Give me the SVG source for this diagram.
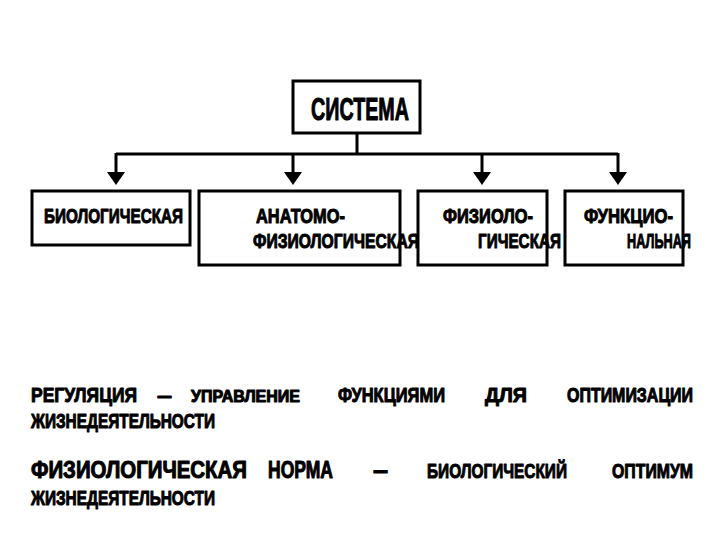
<svg xmlns="http://www.w3.org/2000/svg" width="720" height="540" viewBox="0 0 720 540">
<style>
.box{fill:#fff;stroke:#000;stroke-width:3}
.t{font-family:"Liberation Sans Narrow","Liberation Sans",Arial,sans-serif;font-weight:bold;fill:#000;stroke:#000;stroke-width:1;stroke-linejoin:round}
.c{fill:none;stroke:#000;stroke-width:3}
</style>
<defs>
<marker id="arr" viewBox="0 0 13 18" refX="6" refY="9" markerWidth="13" markerHeight="18" markerUnits="userSpaceOnUse" orient="auto">
<path d="M0,0 L13,9 L0,18 z" fill="#000"/>
</marker>
</defs>
<rect width="720" height="540" fill="#fff"/>
<g id="connectors">
<path class="c" d="M357,133 V154"/>
<path class="c" d="M116,154 H618"/>
<path class="c" d="M116,153 V178" marker-end="url(#arr)"/>
<path class="c" d="M293,153 V178" marker-end="url(#arr)"/>
<path class="c" d="M482,153 V178" marker-end="url(#arr)"/>
<path class="c" d="M618,153 V178" marker-end="url(#arr)"/>
</g>
<g id="sistema">
<rect class="box" x="293" y="81" width="127" height="52"/>
<text class="t" x="311" y="120" font-size="31" textLength="98" lengthAdjust="spacingAndGlyphs">СИСТЕМА</text>
</g>
<g id="biologicheskaya">
<rect class="box" x="32" y="191" width="158" height="54"/>
<text class="t" x="44" y="223" font-size="21" textLength="139" lengthAdjust="spacingAndGlyphs">БИОЛОГИЧЕСКАЯ</text>
</g>
<g id="anatomo">
<rect class="box" x="199" y="191" width="201" height="74"/>
<text class="t" x="256" y="223" font-size="21" textLength="89" lengthAdjust="spacingAndGlyphs">АНАТОМО-</text>
<text class="t" x="253" y="248" font-size="21" textLength="166" lengthAdjust="spacingAndGlyphs">ФИЗИОЛОГИЧЕСКАЯ</text>
</g>
<g id="fiziologicheskaya">
<rect class="box" x="418" y="191" width="129" height="74"/>
<text class="t" x="443" y="223" font-size="21" textLength="90" lengthAdjust="spacingAndGlyphs">ФИЗИОЛО-</text>
<text class="t" x="478" y="248" font-size="21" textLength="83" lengthAdjust="spacingAndGlyphs">ГИЧЕСКАЯ</text>
</g>
<g id="funktsionalnaya">
<rect class="box" x="565" y="191" width="118" height="74"/>
<text class="t" x="584" y="223" font-size="21" textLength="89" lengthAdjust="spacingAndGlyphs">ФУНКЦИО-</text>
<text class="t" x="627" y="248" font-size="21" textLength="64" lengthAdjust="spacingAndGlyphs">НАЛЬНАЯ</text>
</g>
<g id="definitions">
<text class="t" x="31" y="402" font-size="21" textLength="106" lengthAdjust="spacingAndGlyphs">РЕГУЛЯЦИЯ</text>
<text class="t" x="157" y="402" font-size="21" textLength="15" lengthAdjust="spacingAndGlyphs">–</text>
<text class="t" x="191" y="402" font-size="16" textLength="109" lengthAdjust="spacingAndGlyphs">УПРАВЛЕНИЕ</text>
<text class="t" x="338" y="402" font-size="20" textLength="107" lengthAdjust="spacingAndGlyphs">ФУНКЦИЯМИ</text>
<text class="t" x="485" y="402" font-size="20" textLength="42" lengthAdjust="spacingAndGlyphs">ДЛЯ</text>
<text class="t" x="567" y="402" font-size="20" textLength="126" lengthAdjust="spacingAndGlyphs">ОПТИМИЗАЦИИ</text>
<text class="t" x="31" y="428" font-size="20" textLength="184" lengthAdjust="spacingAndGlyphs">ЖИЗНЕДЕЯТЕЛЬНОСТИ</text>
<text class="t" x="31" y="478" font-size="23" textLength="216" lengthAdjust="spacingAndGlyphs">ФИЗИОЛОГИЧЕСКАЯ</text>
<text class="t" x="268" y="478" font-size="23" textLength="65" lengthAdjust="spacingAndGlyphs">НОРМА</text>
<text class="t" x="373" y="478" font-size="23" textLength="15" lengthAdjust="spacingAndGlyphs">–</text>
<text class="t" x="427" y="478" font-size="21" textLength="140" lengthAdjust="spacingAndGlyphs">БИОЛОГИЧЕСКИЙ</text>
<text class="t" x="612" y="478" font-size="21" textLength="81" lengthAdjust="spacingAndGlyphs">ОПТИМУМ</text>
<text class="t" x="31" y="505" font-size="20" textLength="184" lengthAdjust="spacingAndGlyphs">ЖИЗНЕДЕЯТЕЛЬНОСТИ</text>
</g>
</svg>
